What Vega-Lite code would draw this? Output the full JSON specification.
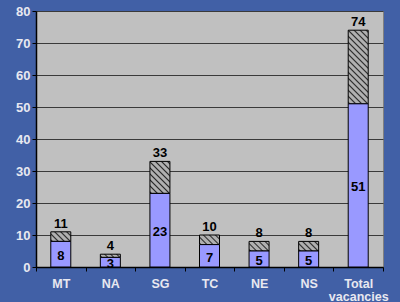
{
  "$schema": "https://vega.github.io/schema/vega-lite/v6.json",
  "width": 347,
  "height": 256,
  "autosize": "none",
  "padding": {"left": 36, "top": 11, "right": 17, "bottom": 35},
  "background": "#4160A6",
  "view": {"fill": "#C0C0C0", "stroke": "#808080", "strokeWidth": 1},
  "config": {
    "axis": {"labelFont": "Liberation Sans", "labelFontWeight": "bold", "labelFontSize": 13, "labelColor": "#E8E8F0", "domainColor": "#000000", "tickColor": "#000000", "title": null},
    "text": {"font": "Liberation Sans", "fontWeight": "bold", "fontSize": 13, "color": "#000000"}
  },
  "data": {"values": [
    {"cat": "MT", "filled": 8, "total": 11},
    {"cat": "NA", "filled": 3, "total": 4},
    {"cat": "SG", "filled": 23, "total": 33},
    {"cat": "TC", "filled": 7, "total": 10},
    {"cat": "NE", "filled": 5, "total": 8},
    {"cat": "NS", "filled": 5, "total": 8},
    {"cat": "Total vacancies", "filled": 51, "total": 74}
  ]},
  "encoding": {
    "x": {"field": "cat", "type": "nominal", "sort": null,
      "scale": {"paddingInner": 0, "paddingOuter": 0},
      "axis": {"labelAngle": 0, "tickBand": "extent", "tickSize": 4, "labelPadding": 6, "labelLineHeight": 13, "labelFontSize": 12.5, "domainWidth": 1.5, "labelBaseline": "top",
        "labelExpr": "datum.label == 'Total vacancies' ? ['Total', 'vacancies'] : datum.label"}}
  },
  "layer": [
    {
      "mark": {"type": "bar", "width": 20, "stroke": "#000000", "strokeWidth": 1},
      "encoding": {
        "y": {"field": "total", "type": "quantitative", "scale": {"domain": [0, 80], "nice": false},
          "axis": {"values": [0, 10, 20, 30, 40, 50, 60, 70, 80], "grid": true, "gridColor": "#3A3A3A", "gridWidth": 1, "tickSize": 4, "labelPadding": 2, "domainWidth": 1.5}},
        "y2": {"field": "filled"},
        "fill": {
          "condition": [
            {"test": "datum.total - datum.filled == 23", "value": {"gradient": "linear", "x1": 0, "y1": 1, "x2": 0.3218, "y2": -0.1843, "stops": [
              {"offset": 0, "color": "#B0B0B0"}, {"offset": 0.0160, "color": "#2A2A2A"}, {"offset": 0.0321, "color": "#B0B0B0"},
              {"offset": 0.0641, "color": "#B0B0B0"}, {"offset": 0.0801, "color": "#2A2A2A"}, {"offset": 0.0962, "color": "#B0B0B0"},
              {"offset": 0.1282, "color": "#B0B0B0"}, {"offset": 0.1442, "color": "#2A2A2A"}, {"offset": 0.1603, "color": "#B0B0B0"},
              {"offset": 0.1923, "color": "#B0B0B0"}, {"offset": 0.2083, "color": "#2A2A2A"}, {"offset": 0.2244, "color": "#B0B0B0"},
              {"offset": 0.2564, "color": "#B0B0B0"}, {"offset": 0.2724, "color": "#2A2A2A"}, {"offset": 0.2885, "color": "#B0B0B0"},
              {"offset": 0.3205, "color": "#B0B0B0"}, {"offset": 0.3365, "color": "#2A2A2A"}, {"offset": 0.3526, "color": "#B0B0B0"},
              {"offset": 0.3846, "color": "#B0B0B0"}, {"offset": 0.4006, "color": "#2A2A2A"}, {"offset": 0.4167, "color": "#B0B0B0"},
              {"offset": 0.4487, "color": "#B0B0B0"}, {"offset": 0.4647, "color": "#2A2A2A"}, {"offset": 0.4808, "color": "#B0B0B0"},
              {"offset": 0.5128, "color": "#B0B0B0"}, {"offset": 0.5288, "color": "#2A2A2A"}, {"offset": 0.5449, "color": "#B0B0B0"},
              {"offset": 0.5769, "color": "#B0B0B0"}, {"offset": 0.5929, "color": "#2A2A2A"}, {"offset": 0.6090, "color": "#B0B0B0"},
              {"offset": 0.6410, "color": "#B0B0B0"}, {"offset": 0.6571, "color": "#2A2A2A"}, {"offset": 0.6731, "color": "#B0B0B0"},
              {"offset": 0.7051, "color": "#B0B0B0"}, {"offset": 0.7212, "color": "#2A2A2A"}, {"offset": 0.7372, "color": "#B0B0B0"},
              {"offset": 0.7692, "color": "#B0B0B0"}, {"offset": 0.7853, "color": "#2A2A2A"}, {"offset": 0.8013, "color": "#B0B0B0"},
              {"offset": 0.8333, "color": "#B0B0B0"}, {"offset": 0.8494, "color": "#2A2A2A"}, {"offset": 0.8654, "color": "#B0B0B0"},
              {"offset": 0.8974, "color": "#B0B0B0"}, {"offset": 0.9135, "color": "#2A2A2A"}, {"offset": 0.9295, "color": "#B0B0B0"},
              {"offset": 0.9615, "color": "#B0B0B0"}, {"offset": 0.9776, "color": "#2A2A2A"}, {"offset": 0.9936, "color": "#B0B0B0"}
            ]}},
            {"test": "datum.total - datum.filled == 10", "value": {"gradient": "linear", "x1": 0, "y1": 1, "x2": 0.7303, "y2": -0.1685, "stops": [
              {"offset": 0, "color": "#B0B0B0"}, {"offset": 0.0288, "color": "#2A2A2A"}, {"offset": 0.0577, "color": "#B0B0B0"},
              {"offset": 0.1154, "color": "#B0B0B0"}, {"offset": 0.1442, "color": "#2A2A2A"}, {"offset": 0.1731, "color": "#B0B0B0"},
              {"offset": 0.2308, "color": "#B0B0B0"}, {"offset": 0.2596, "color": "#2A2A2A"}, {"offset": 0.2885, "color": "#B0B0B0"},
              {"offset": 0.3462, "color": "#B0B0B0"}, {"offset": 0.3750, "color": "#2A2A2A"}, {"offset": 0.4038, "color": "#B0B0B0"},
              {"offset": 0.4615, "color": "#B0B0B0"}, {"offset": 0.4904, "color": "#2A2A2A"}, {"offset": 0.5192, "color": "#B0B0B0"},
              {"offset": 0.5769, "color": "#B0B0B0"}, {"offset": 0.6058, "color": "#2A2A2A"}, {"offset": 0.6346, "color": "#B0B0B0"},
              {"offset": 0.6923, "color": "#B0B0B0"}, {"offset": 0.7212, "color": "#2A2A2A"}, {"offset": 0.7500, "color": "#B0B0B0"},
              {"offset": 0.8077, "color": "#B0B0B0"}, {"offset": 0.8365, "color": "#2A2A2A"}, {"offset": 0.8654, "color": "#B0B0B0"},
              {"offset": 0.9231, "color": "#B0B0B0"}, {"offset": 0.9519, "color": "#2A2A2A"}, {"offset": 0.9808, "color": "#B0B0B0"}
            ]}},
            {"test": "datum.total - datum.filled == 1", "value": {"gradient": "linear", "x1": 0, "y1": 1, "x2": 1.1311, "y2": 0.8190, "stops": [
              {"offset": 0, "color": "#B0B0B0"}, {"offset": 0.0647, "color": "#2A2A2A"}, {"offset": 0.1293, "color": "#B0B0B0"},
              {"offset": 0.2586, "color": "#B0B0B0"}, {"offset": 0.3233, "color": "#2A2A2A"}, {"offset": 0.3879, "color": "#B0B0B0"},
              {"offset": 0.5172, "color": "#B0B0B0"}, {"offset": 0.5819, "color": "#2A2A2A"}, {"offset": 0.6466, "color": "#B0B0B0"},
              {"offset": 0.7759, "color": "#B0B0B0"}, {"offset": 0.8405, "color": "#2A2A2A"}, {"offset": 0.9052, "color": "#B0B0B0"}
            ]}}
          ],
          "value": {"gradient": "linear", "x1": 0, "y1": 1, "x2": 1.2029, "y2": 0.4226, "stops": [
            {"offset": 0, "color": "#B0B0B0"}, {"offset": 0.0507, "color": "#2A2A2A"}, {"offset": 0.1014, "color": "#B0B0B0"},
            {"offset": 0.2027, "color": "#B0B0B0"}, {"offset": 0.2534, "color": "#2A2A2A"}, {"offset": 0.3041, "color": "#B0B0B0"},
            {"offset": 0.4054, "color": "#B0B0B0"}, {"offset": 0.4561, "color": "#2A2A2A"}, {"offset": 0.5068, "color": "#B0B0B0"},
            {"offset": 0.6081, "color": "#B0B0B0"}, {"offset": 0.6588, "color": "#2A2A2A"}, {"offset": 0.7095, "color": "#B0B0B0"},
            {"offset": 0.8108, "color": "#B0B0B0"}, {"offset": 0.8615, "color": "#2A2A2A"}, {"offset": 0.9122, "color": "#B0B0B0"}
          ]}
        }
      }
    },
    {
      "mark": {"type": "bar", "width": 20, "fill": "#9999FF", "stroke": "#000000", "strokeWidth": 1},
      "encoding": {
        "y": {"field": "filled", "type": "quantitative", "scale": {"domain": [0, 80], "nice": false}, "axis": null}
      }
    },
    {
      "mark": {"type": "text", "baseline": "middle", "dy": 2},
      "encoding": {
        "y": {"field": "filled", "type": "quantitative", "scale": {"domain": [0, 160], "nice": false}, "axis": null},
        "text": {"field": "filled", "type": "quantitative"}
      }
    },
    {
      "mark": {"type": "text", "baseline": "bottom", "dy": -1},
      "encoding": {
        "y": {"field": "total", "type": "quantitative", "scale": {"domain": [0, 80], "nice": false}, "axis": null},
        "text": {"field": "total", "type": "quantitative"}
      }
    }
  ],
  "resolve": {"scale": {"y": "independent"}}
}
